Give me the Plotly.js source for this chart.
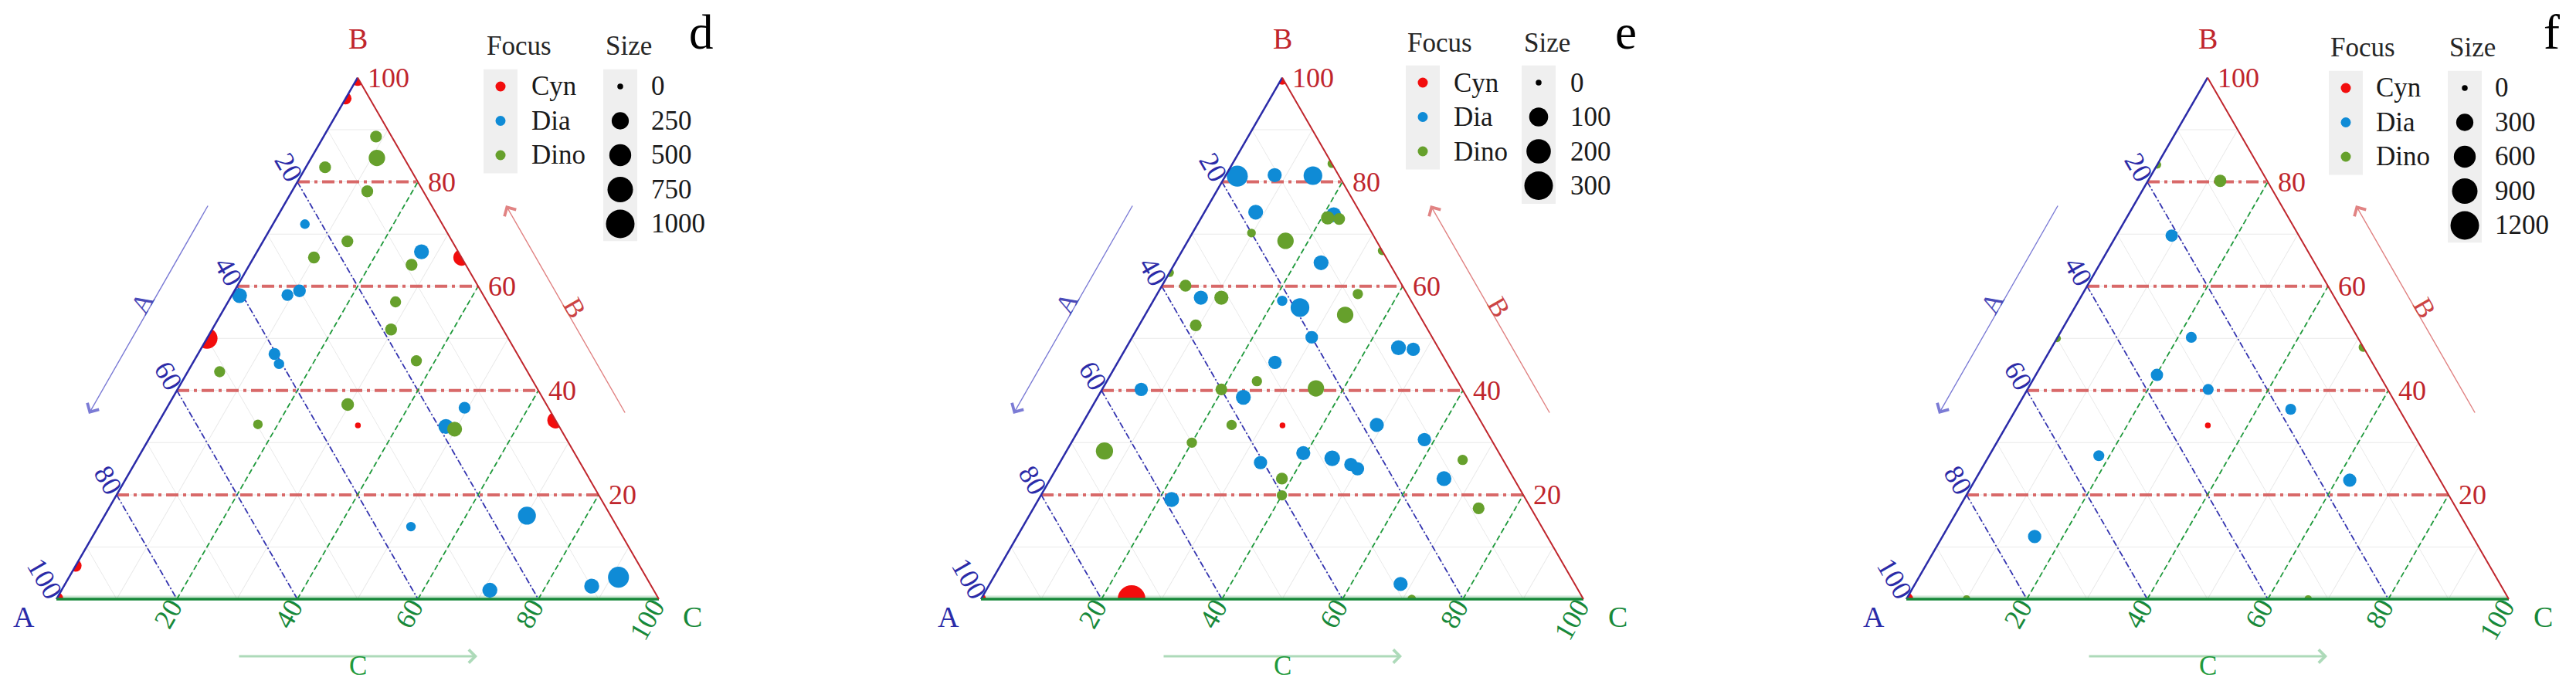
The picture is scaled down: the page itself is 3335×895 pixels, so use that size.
<!DOCTYPE html>
<html>
<head>
<meta charset="utf-8">
<script src="https://cdn.plot.ly/plotly-3.0.1.min.js"></script>
<style>
  html, body { margin: 0; padding: 0; background: #fff; }
  #chart { width: 3335px; height: 895px; }
</style>
</head>
<body>
<div id="chart"></div>
<script>
// ---------- data: composition in % (A, B, C) and size value of every point ----------
const groupNames = ['Cyn', 'Dia', 'Dino'];
const tickVals = [20, 40, 60, 80, 100];
const gridVals = [20, 40, 60, 80];

// panel d
const dCynA = [0, 4, 0, 50, 33.3, 0, 93.6, 100];
const dCynB = [100, 96, 65.5, 50, 33.3, 34.3, 6.4, 0];
const dCynC = [0, 0, 34.5, 0, 33.4, 65.7, 0, 0];
const dCynV = [218, 71, 218, 444, 0, 218, 71, 134];
const dDiaA = [22.8, 6.1, 40.5, 32.5, 30.1, 40.3, 40.5, 13.9, 18.8, 34.2, 13.9, 27.2, 9.9, 4.6];
const dDiaB = [71.9, 66.6, 58.2, 58.3, 59.1, 47.0, 45.1, 36.7, 33.1, 13.9, 16.0, 1.7, 2.5, 4.2];
const dDiaC = [5.3, 27.3, 1.3, 9.2, 10.8, 12.7, 14.4, 49.4, 48.1, 51.9, 70.1, 71.1, 87.6, 91.2];
const dDiaV = [28, 160, 160, 71, 90, 71, 40, 71, 160, 28, 284, 160, 160, 444];
const dDinoA = [2.6, 4.5, 14.0, 9.3, 17.4, 24.5, 9.0, 15.2, 18.6, 51.1, 17.4, 33.0, 49.8, 17.6];
const dDinoB = [88.7, 84.6, 82.8, 78.2, 68.6, 65.5, 64.1, 57.0, 51.7, 43.6, 45.7, 37.3, 33.5, 32.6];
const dDinoC = [8.7, 10.9, 3.2, 12.5, 14.0, 10.0, 26.9, 27.8, 29.7, 5.3, 36.9, 29.7, 16.7, 49.8];
const dDinoV = [71, 218, 71, 71, 71, 71, 71, 54, 71, 54, 54, 90, 28, 160];
const dBreaks = [0, 250, 500, 750, 1000];

// panel e
const eCynA = [0, 100, 75, 33.3];
const eCynB = [100, 0, 0, 33.3];
const eCynC = [0, 0, 25, 33.4];
const eCynV = [40, 12, 280, 0];
const eDiaA = [16.9, 10.6, 4.3, 17.3, 4.6, 11.3, 34.6, 21.4, 19.1, 20.0, 6.6, 4.3, 28.5, 53.3, 37.1, 17.6, 11.1, 40.5, 32.5, 28.2, 25.7, 25.0, 11.6, 58.8, 28.9];
const eDiaB = [81.1, 81.3, 81.2, 74.2, 73.7, 64.5, 57.8, 57.2, 55.9, 50.2, 48.2, 47.9, 45.4, 40.2, 38.7, 33.4, 30.6, 26.2, 28.0, 27.0, 25.8, 25.0, 23.1, 19.1, 2.9];
const eDiaC = [2.0, 8.1, 14.5, 8.5, 21.7, 24.2, 7.6, 21.4, 25.0, 29.8, 45.2, 47.8, 26.1, 6.5, 24.2, 49.0, 58.3, 33.3, 39.5, 44.8, 48.5, 50.0, 65.3, 22.1, 68.2];
const eDiaV = [133, 40, 96, 48, 48, 48, 40, 12, 96, 27, 48, 33, 33, 33, 48, 40, 33, 33, 40, 56, 33, 33, 48, 48, 40];
const eDinoA = [0, 5.9, 4.1, 20.0, 15.1, 0, 37.4, 36.0, 31.2, 8.2, 12.3, 38.1, 33.3, 40.0, 24.2, 41.7, 50.0, 65.3, 38.5, 40.1, 6.7, 8.7, 28.5];
const eDinoB = [83.5, 73.1, 72.9, 70.2, 68.7, 66.8, 62.6, 60.1, 57.8, 58.5, 54.5, 52.5, 41.8, 40.2, 40.4, 33.4, 30.0, 28.4, 23.1, 19.9, 26.7, 17.4, 0];
const eDinoC = [16.5, 21.0, 23.0, 9.8, 16.2, 33.2, 0, 3.9, 11.0, 33.3, 33.2, 9.4, 24.9, 19.8, 35.4, 24.9, 20.0, 6.3, 38.4, 40.0, 66.6, 73.9, 71.5];
const eDinoV = [5, 33, 21, 5, 65, 5, 5, 21, 40, 12, 65, 21, 12, 21, 65, 12, 12, 75, 21, 12, 12, 21, 5];
const eBreaks = [0, 100, 200, 300];

// panel f
const fCynA = [100, 33.3];
const fCynB = [0, 33.3];
const fCynC = [0, 33.4];
const fCynV = [147, 0];
const fDiaA = [21.1, 27.6, 36.9, 29.8, 18.0, 54.3, 15.0, 72.7];
const fDiaB = [69.7, 50.2, 43.0, 40.2, 36.4, 27.5, 22.8, 12.0];
const fDiaC = [9.2, 22.2, 20.1, 30.0, 45.6, 18.2, 62.2, 15.3];
const fDiaV = [99, 61, 99, 61, 61, 61, 131, 131];
const fDinoA = [7.8, 16.7, 50, 0, 90, 33.3];
const fDinoB = [80.2, 83.3, 50, 48.3, 0, 0];
const fDinoC = [12.0, 0, 0, 51.7, 10, 66.7];
const fDinoV = [100, 10, 10, 30, 10, 10];
const fBreaks = [0, 300, 600, 900, 1200];

// ---------- layout constants ----------
const W = 3335, H = 895;
const SIDE = 780, BASE = 776, HGT = SIDE * Math.sqrt(3) / 2;
const ROW = 44.5;
const FONT = '"Liberation Serif", "Times New Roman", "DejaVu Serif", serif';
const groupColors = ['#f20d0d', '#0f8bd6', '#66a02c'];
const colA = '#2b2ba8', colB = '#c0262d', colC = '#17893a';

// legend x offsets (px from cx+150): focus title, focus key, focus text, size title, size key, size text
const panels = [
  {tag: 'd', cx: 463, sizeMax: 1000, breaks: dBreaks, leg: [15, 35, 73, 169, 190, 228], rowTop: 112, titleY: 60,
   data: [[dCynA, dCynB, dCynC, dCynV], [dDiaA, dDiaB, dDiaC, dDiaV], [dDinoA, dDinoB, dDinoC, dDinoV]]},
  {tag: 'e', cx: 1660, sizeMax: 300, breaks: eBreaks, leg: [10, 32, 70, 161, 182, 221], rowTop: 107, titleY: 55,
   data: [[eCynA, eCynB, eCynC, eCynV], [eDiaA, eDiaB, eDiaC, eDiaV], [eDinoA, eDinoB, eDinoC, eDinoV]]},
  {tag: 'f', cx: 2858, sizeMax: 1200, breaks: fBreaks, leg: [7, 29, 66, 161, 183, 220], rowTop: 114, titleY: 62,
   data: [[fCynA, fCynB, fCynC, fCynV], [fDiaA, fDiaB, fDiaC, fDiaV], [fDinoA, fDinoB, fDinoC, fDinoV]]}
];

const sizeFn = (v, max) => 7.5 + 29.5 * Math.sqrt(v / max);
const px2x = px => px / W;
const px2y = py => 1 - py / H;

// pixel position of a composition (A bottom-left, B top, C bottom-right)
function ternPx(p, A, B, C) {
  const s = A + B + C;
  const x = (A * (p.cx - SIDE / 2) + B * p.cx + C * (p.cx + SIDE / 2)) / s;
  const y = (A * BASE + B * (BASE - HGT) + C * BASE) / s;
  return [x, y];
}

function note(q, text, color, size, extra) {
  return Object.assign({
    xref: 'paper', yref: 'paper', x: px2x(q[0]), y: px2y(q[1]),
    text: String(text), showarrow: false, xanchor: 'center', yanchor: 'middle',
    font: {family: FONT, size: size, color: color}
  }, extra || {});
}

function arrow(head, tail, color, width, headSize) {
  return {
    xref: 'paper', yref: 'paper', x: px2x(head[0]), y: px2y(head[1]),
    ax: tail[0] - head[0], ay: tail[1] - head[1], axref: 'pixel', ayref: 'pixel',
    text: '', showarrow: true, arrowhead: 4, arrowsize: headSize, arrowwidth: width,
    arrowcolor: color, standoff: 0, startstandoff: 0
  };
}

function gridLine(tid, A, B, C, style) {
  return {type: 'scatterternary', subplot: tid, a: B, b: A, c: C, mode: 'lines',
          line: style, hoverinfo: 'skip', showlegend: false, cliponaxis: false};
}

const axisStyle = (lc, lw) => ({
  min: 0, tickmode: 'linear', tick0: 0, dtick: 10,
  showgrid: true, gridcolor: '#e9e9e9', gridwidth: 1,
  showticklabels: false, ticks: '', showline: true, linecolor: lc, linewidth: lw,
  title: {text: ''}
});

const traces = [];
const annotations = [];
const shapes = [];
const layout = {
  width: W, height: H, margin: {l: 0, r: 0, t: 0, b: 0},
  paper_bgcolor: '#ffffff', plot_bgcolor: 'rgba(0,0,0,0)', showlegend: false,
  font: {family: FONT}
};

panels.forEach((p, k) => {
  const tid = k === 0 ? 'ternary' : 'ternary' + (k + 1);
  const sfx = k === 0 ? '' : String(k + 1);

  layout[tid] = {
    domain: {x: [px2x(p.cx - SIDE / 2), px2x(p.cx + SIDE / 2)], y: [px2y(BASE), px2y(BASE - HGT)]},
    sum: 100, bgcolor: '#ffffff',
    aaxis: axisStyle(colA, 2.5),   // left edge
    baxis: axisStyle(colC, 3.5),   // bottom edge
    caxis: axisStyle(colB, 2)      // right edge
  };

  // soft halo under the C (bottom) edge
  traces.push(gridLine(tid, [100, 0], [0, 0], [0, 100], {color: 'rgba(40,150,70,0.22)', width: 9}));

  // coloured major grid
  gridVals.forEach(v => {
    traces.push(gridLine(tid, [100 - v, 0], [v, v], [0, 100 - v],
      {color: 'rgba(210,80,80,0.85)', width: 4, dash: '16px,6px,4px,6px'}));
    traces.push(gridLine(tid, [v, v], [100 - v, 0], [0, 100 - v],
      {color: '#3434b0', width: 1.8, dash: '8px,3px,2px,3px'}));
    traces.push(gridLine(tid, [100 - v, 0], [0, 100 - v], [v, v],
      {color: '#1f9a3c', width: 1.8, dash: '7px,4px'}));
  });

  // points
  p.data.forEach((g, gi) => {
    traces.push({
      type: 'scatterternary', subplot: tid, mode: 'markers', name: groupNames[gi],
      a: g[1], b: g[0], c: g[2], cliponaxis: true, showlegend: false,
      marker: {color: groupColors[gi], size: g[3].map(v => sizeFn(v, p.sizeMax)), line: {width: 0}, opacity: 1},
      hovertemplate: 'A %{b}<br>B %{a}<br>C %{c}<extra>' + groupNames[gi] + '</extra>'
    });
  });

  // tick labels
  tickVals.forEach(v => {
    const n = String(v).length;
    const L = n * 9 + 4;
    annotations.push(note(ternPx(p, 0, v, 100 - v), v, colB, 36, {xanchor: 'left', xshift: 11}));
    annotations.push(note(ternPx(p, v, 100 - v, 0), v, colA, 36,
      {textangle: 60, xshift: -L * 0.5, yshift: L * 0.866}));
    annotations.push(note(ternPx(p, 100 - v, 0, v), v, colC, 36,
      {textangle: -60, xshift: -L * 0.5, yshift: -L * 0.866}));
  });

  // vertex titles
  annotations.push(note([p.cx, 50], 'B', colB, 38));
  annotations.push(note([p.cx - 432, 799], 'A', colA, 38));
  annotations.push(note([p.cx + 434, 799], 'C', colC, 38));

  // direction arrows with their labels
  annotations.push(arrow([p.cx - 348, 536], [p.cx - 193, 265], 'rgba(80,80,200,0.75)', 1.4, 2.4));
  annotations.push(arrow([p.cx + 192, 266], [p.cx + 347, 536], 'rgba(215,90,90,0.75)', 1.4, 2.4));
  annotations.push(arrow([p.cx + 155, 850], [p.cx - 155, 850], 'rgba(120,195,140,0.6)', 3, 1.1));
  annotations.push(note([p.cx - 279, 392], 'A', '#4a4ab8', 35, {textangle: -60}));
  annotations.push(note([p.cx + 281, 398], 'B', '#cc4444', 35, {textangle: 60}));
  annotations.push(note([p.cx, 862], 'C', '#1f9a3c', 35));

  // panel letter
  annotations.push(note([p.cx + 445, 42], p.tag, '#000000', 63));

  // legends drawn in a small hidden cartesian frame
  const xa = 'x' + sfx, ya = 'y' + sfx;
  layout['xaxis' + sfx] = {domain: [px2x(p.cx + 150), px2x(p.cx + 450)], range: [0, 300],
                           visible: false, fixedrange: true, anchor: ya};
  layout['yaxis' + sfx] = {domain: [px2y(p.rowTop + 4.5 * ROW), px2y(p.rowTop - 1.5 * ROW)], range: [4.5, -1.5],
                           visible: false, fixedrange: true, anchor: xa};
  const L = p.leg;
  const rowsF = groupNames.map((_, i) => i);
  const rowsS = p.breaks.map((_, i) => i);
  const titleRow = (p.titleY - p.rowTop) / ROW;

  shapes.push({type: 'rect', xref: xa, yref: ya, x0: L[1] - 22, x1: L[1] + 22, y0: -0.5, y1: rowsF.length - 0.47,
               fillcolor: '#efefef', line: {width: 0}, layer: 'below'});
  shapes.push({type: 'rect', xref: xa, yref: ya, x0: L[4] - 22, x1: L[4] + 22, y0: -0.5, y1: rowsS.length - 0.47,
               fillcolor: '#efefef', line: {width: 0}, layer: 'below'});

  traces.push({type: 'scatter', xaxis: xa, yaxis: ya, mode: 'markers', x: rowsF.map(() => L[1]), y: rowsF,
               marker: {color: groupColors, size: 13, opacity: 1}, hoverinfo: 'skip', cliponaxis: false, showlegend: false});
  traces.push({type: 'scatter', xaxis: xa, yaxis: ya, mode: 'markers', x: rowsS.map(() => L[4]), y: rowsS,
               marker: {color: '#000000', size: p.breaks.map(v => sizeFn(v, p.sizeMax)), opacity: 1, line: {width: 0}},
               hoverinfo: 'skip', cliponaxis: false, showlegend: false});

  annotations.push({xref: xa, yref: ya, x: L[0], y: titleRow, text: 'Focus', showarrow: false, xanchor: 'left',
                    yanchor: 'middle', font: {family: FONT, size: 35, color: '#262626'}});
  annotations.push({xref: xa, yref: ya, x: L[3], y: titleRow, text: 'Size', showarrow: false, xanchor: 'left',
                    yanchor: 'middle', font: {family: FONT, size: 35, color: '#262626'}});
  groupNames.forEach((g, i) => annotations.push({xref: xa, yref: ya, x: L[2], y: i, text: g, showarrow: false,
    xanchor: 'left', yanchor: 'middle', font: {family: FONT, size: 35, color: '#1a1a1a'}}));
  p.breaks.forEach((b, i) => annotations.push({xref: xa, yref: ya, x: L[5], y: i, text: String(b), showarrow: false,
    xanchor: 'left', yanchor: 'middle', font: {family: FONT, size: 35, color: '#1a1a1a'}}));
});

layout.annotations = annotations;
layout.shapes = shapes;

Plotly.newPlot('chart', traces, layout, {staticPlot: true});
</script>
</body>
</html>
